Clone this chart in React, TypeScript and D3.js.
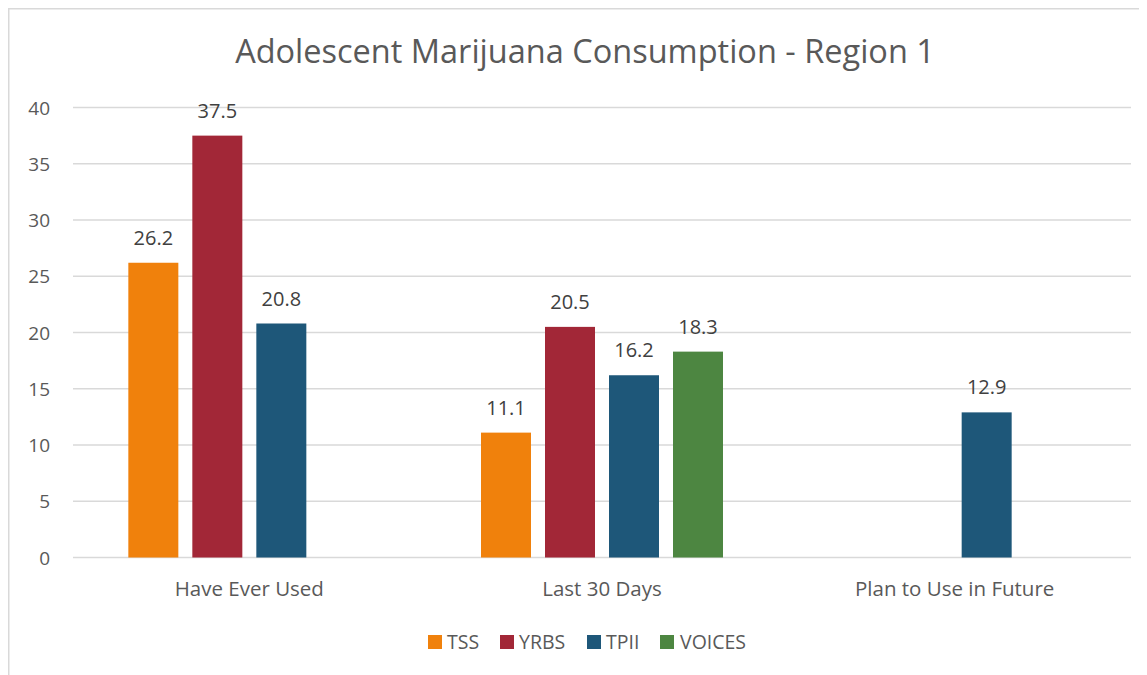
import React from "react";
import * as d3 from "d3";

const categories = ["Have Ever Used", "Last 30 Days", "Plan to Use in Future"];
const seriesNames = ["TSS", "YRBS", "TPII", "VOICES"];
const tssValues: (number | null)[] = [26.2, 11.1, null];
const yrbsValues: (number | null)[] = [37.5, 20.5, null];
const tpiiValues: (number | null)[] = [20.8, 16.2, 12.9];
const voicesValues: (number | null)[] = [null, 18.3, null];
const seriesColors = ["#F0810C", "#A22737", "#1E5779", "#4D8641"];
const yTicks = [0, 5, 10, 15, 20, 25, 30, 35, 40];
const title = "Adolescent Marijuana Consumption - Region 1";

const allValues = [tssValues, yrbsValues, tpiiValues, voicesValues];

const W = 1139;
const H = 667;
const FONT = "'Open Sans', sans-serif";

export default function App() {
  const left = 65;
  const right = 1123;
  const y = d3.scaleLinear().domain([0, 40]).range([549.5, 99.5]);
  const x0 = d3.scaleBand<string>().domain(categories).range([left, right]).padding(0);
  const groupW = 242;
  const x1 = d3
    .scaleBand<string>()
    .domain(seriesNames)
    .range([0, groupW])
    .paddingInner(0.21875)
    .paddingOuter(0);

  const legendItems = [
    { name: "TSS", sx: 420, tx: 439 },
    { name: "YRBS", sx: 492, tx: 511 },
    { name: "TPII", sx: 579, tx: 598 },
    { name: "VOICES", sx: 652, tx: 672 },
  ];

  return (
    <svg width={W} height={H} style={{ display: "block", fontFamily: FONT }}>
      <rect x={0.75} y={0.75} width={1300} height={900} fill="#fff" stroke="#d9d9d9" strokeWidth={1.5} />
      <text x={577} y={55} textAnchor="middle" fontSize={32.5} fill="#595959">
        {title}
      </text>
      {yTicks.map((t) => (
        <g key={t}>
          <line x1={left} x2={right} y1={y(t)} y2={y(t)} stroke="#d9d9d9" strokeWidth={1.5} />
          <text x={42} y={y(t) + 7} textAnchor="end" fontSize={19} fill="#595959">
            {t}
          </text>
        </g>
      ))}
      {categories.map((c, ci) => {
        const cx = (x0(c) as number) + x0.bandwidth() / 2;
        const gx = cx - groupW / 2;
        return (
          <g key={c}>
            {seriesNames.map((s, si) => {
              const v = allValues[si][ci];
              if (v == null) return null;
              const bx = gx + (x1(s) as number);
              return (
                <g key={s}>
                  <rect x={bx} y={y(v)} width={x1.bandwidth()} height={y(0) - y(v)} fill={seriesColors[si]} />
                  <text
                    x={bx + x1.bandwidth() / 2}
                    y={y(v) - 18}
                    textAnchor="middle"
                    fontSize={20}
                    fill="#404040"
                  >
                    {v.toFixed(1)}
                  </text>
                </g>
              );
            })}
            <text x={cx} y={588} textAnchor="middle" fontSize={20.5} fill="#595959">
              {c}
            </text>
          </g>
        );
      })}
      {legendItems.map((l, i) => (
        <g key={l.name}>
          <rect x={l.sx} y={627} width={14} height={14} fill={seriesColors[i]} />
          <text x={l.tx} y={641} fontSize={19.5} fill="#595959">
            {l.name}
          </text>
        </g>
      ))}
    </svg>
  );
}
